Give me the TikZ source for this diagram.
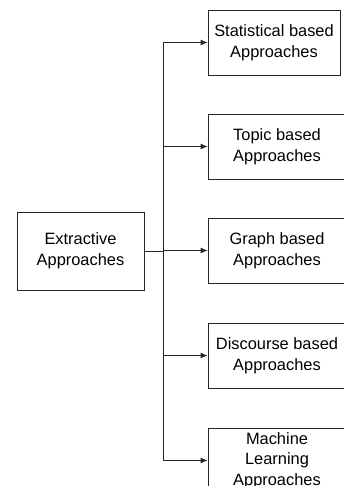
\documentclass[tikz,border=0pt]{standalone}
\usepackage{fontspec}
\setmainfont{Liberation Sans}
\usetikzlibrary{arrows.meta}
\tikzset{
	approachbox/.style={draw=black!85, line width=0.8pt, inner sep=0pt, align=center, minimum height=65pt, font=\fontsize{16.4}{20.6}\selectfont},
	branch/.style={draw=black!85, line width=0.8pt, -{Latex[length=7pt,width=6pt]}}
}

\begin{document}
\begin{tikzpicture}[x=1pt, y=-1pt]
				\useasboundingbox (0,0) rectangle (344,486);
				\clip (0,0) rectangle (344,486);
				
				\node[approachbox, minimum width=127pt, minimum height=78pt] (extr) at (80.5,251) {Extractive\\Approaches};
				
				\node[approachbox, minimum width=132pt] (stat) at (274,42.5) {Statistical based\\Approaches};
				\node[approachbox, minimum width=138pt] (topic) at (277,146.5) {Topic based\\Approaches};
				\node[approachbox, minimum width=138pt] (graph) at (277,250.5) {Graph based\\Approaches};
				\node[approachbox, minimum width=138pt] (disc) at (277,355.5) {Discourse based\\Approaches};
				\node[approachbox, minimum width=138pt] (mach) at (277,460.5) {Machine\\Learning\\Approaches};
				
				\coordinate (split) at (163,251);
				\draw[draw=black!85, line width=0.8pt] (extr.east) -- (split);
				
				\draw[branch] (split) |- (stat.west);
				\draw[branch] (split) |- (topic.west);
				\draw[branch] (split) |- (graph.west);
				\draw[branch] (split) |- (disc.west);
				\draw[branch] (split) |- (mach.west);
			\end{tikzpicture}
\end{document}
